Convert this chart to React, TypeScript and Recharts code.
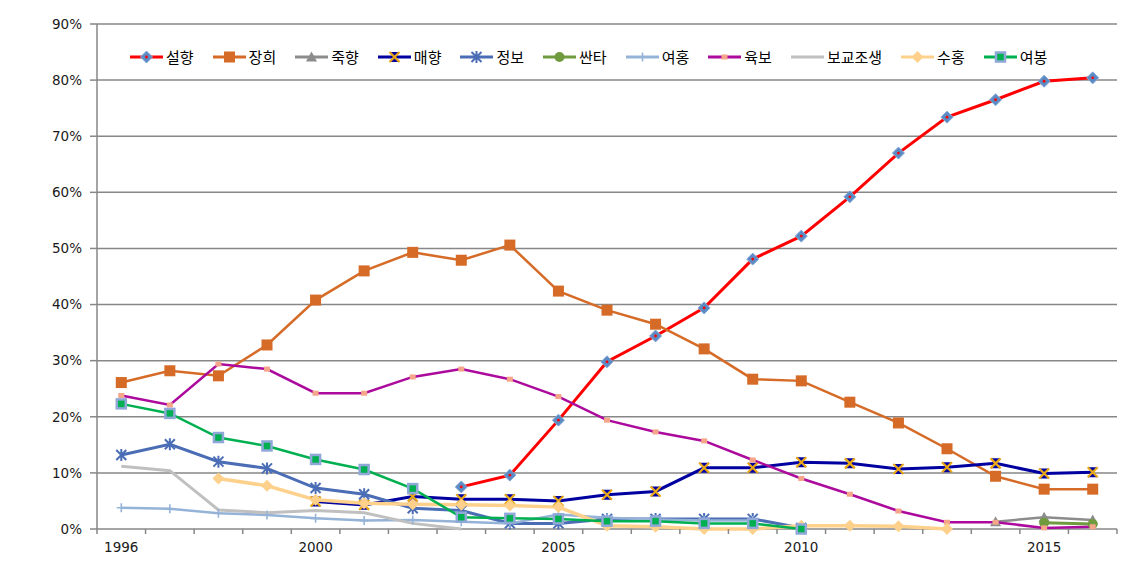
import { LineChart, Line, XAxis, YAxis, CartesianGrid, Legend } from "recharts";

const years = [
  1996, 1997, 1998, 1999, 2000, 2001, 2002, 2003, 2004, 2005, 2006, 2007, 2008,
  2009, 2010, 2011, 2012, 2013, 2014, 2015, 2016,
];
const yearBounds = [...years.map((y) => y - 0.5), 2016.5];
const yearLabels = [1996, 2000, 2005, 2010, 2015];
const pctTicks = [0, 10, 20, 30, 40, 50, 60, 70, 80, 90];

const seolhyang = [null, null, null, null, null, null, null, 7.5, 9.6, 19.4, 29.8, 34.4, 39.4, 48.1, 52.2, 59.2, 67.0, 73.4, 76.5, 79.8, 80.4];
const janghui = [26.1, 28.2, 27.3, 32.8, 40.8, 46.0, 49.3, 47.9, 50.6, 42.4, 39.0, 36.5, 32.1, 26.7, 26.4, 22.6, 18.9, 14.3, 9.4, 7.1, 7.1];
const jukhyang = [null, null, null, null, null, null, null, null, null, null, null, null, null, null, null, null, null, null, 1.3, 2.1, 1.6];
const maehyang = [null, null, null, null, 4.9, 4.3, 5.8, 5.3, 5.3, 5.0, 6.1, 6.7, 10.9, 10.9, 11.9, 11.7, 10.7, 11.0, 11.7, 9.9, 10.1];
const jeongbo = [13.2, 15.1, 12.0, 10.8, 7.3, 6.2, 3.7, 3.3, 1.0, 1.0, 1.8, 1.8, 1.8, 1.8, 0.2, null, null, null, null, null, null];
const santa = [null, null, null, null, null, null, null, null, null, null, null, null, null, null, null, null, null, null, null, 1.1, 0.9];
const yeohong = [3.8, 3.6, 2.8, 2.5, 1.9, 1.5, 1.6, 1.3, 1.0, 2.6, 2.0, 1.7, 1.5, 1.5, null, null, null, null, null, null, null];
const yukbo = [23.8, 22.1, 29.4, 28.5, 24.2, 24.2, 27.1, 28.5, 26.7, 23.6, 19.4, 17.3, 15.7, 12.3, 9.0, 6.2, 3.2, 1.2, 1.2, 0.2, 0.4];
const bogyojosaeng = [11.2, 10.4, 3.4, 2.9, 3.3, 2.9, 1.0, 0.0, null, null, null, null, null, null, null, null, null, null, null, null, null];
const suhong = [null, null, 9.0, 7.7, 5.2, 4.6, 4.4, 4.3, 4.2, 3.9, 0.6, 0.4, 0.0, 0.0, 0.6, 0.6, 0.5, 0.0, null, null, null];
const yeobong = [22.3, 20.6, 16.3, 14.8, 12.4, 10.6, 7.2, 2.1, 1.9, 1.8, 1.4, 1.4, 1.0, 1.0, 0.0, null, null, null, null, null, null];

type Mark = "diamond" | "square" | "triangle" | "x" | "star" | "circle" | "plus" | "small" | "soft" | "framed" | "none";

interface SeriesDef {
  name: string;
  values: (number | null)[];
  color: string;
  width: number;
  mark: Mark;
}

const series: SeriesDef[] = [
  { name: "설향", values: seolhyang, color: "#ff0000", width: 3, mark: "diamond" },
  { name: "장희", values: janghui, color: "#d56b27", width: 2.5, mark: "square" },
  { name: "죽향", values: jukhyang, color: "#8c8c8c", width: 2.5, mark: "triangle" },
  { name: "매향", values: maehyang, color: "#0000a0", width: 3, mark: "x" },
  { name: "정보", values: jeongbo, color: "#4a6db5", width: 3, mark: "star" },
  { name: "싼타", values: santa, color: "#6f9b3e", width: 3, mark: "circle" },
  { name: "여홍", values: yeohong, color: "#95b3d7", width: 2.5, mark: "plus" },
  { name: "육보", values: yukbo, color: "#ac0a9c", width: 2.5, mark: "small" },
  { name: "보교조생", values: bogyojosaeng, color: "#c0c0c0", width: 3, mark: "none" },
  { name: "수홍", values: suhong, color: "#fdd18b", width: 3.5, mark: "soft" },
  { name: "여봉", values: yeobong, color: "#00b050", width: 2.5, mark: "framed" },
];

const data = years.map((year, i) => {
  const row: Record<string, number | null> = { year };
  series.forEach((s) => {
    row[s.name] = s.values[i];
  });
  return row;
});

function drawMark(mark: Mark, x: number, y: number, color: string) {
  switch (mark) {
    case "diamond":
      return (
        <g>
          <polygon points={`${x},${y - 6} ${x + 6},${y} ${x},${y + 6} ${x - 6},${y}`} fill="#5b8bc5" stroke="#86a9d6" strokeWidth={1} />
          <circle cx={x} cy={y} r={1.4} fill="#ff0000" />
        </g>
      );
    case "square":
      return <rect x={x - 5.5} y={y - 5.5} width={11} height={11} fill={color} />;
    case "triangle":
      return <polygon points={`${x},${y - 5.5} ${x + 5.5},${y + 4.5} ${x - 5.5},${y + 4.5}`} fill={color} />;
    case "x":
      return (
        <g>
          <polygon points={`${x - 5},${y - 5} ${x + 5},${y - 5} ${x - 5},${y + 5} ${x + 5},${y + 5}`} fill={color} />
          <path d={`M${x - 5},${y - 5}L${x + 5},${y + 5}M${x + 5},${y - 5}L${x - 5},${y + 5}`} stroke="#e8a817" strokeWidth={2.2} />
        </g>
      );
    case "star":
      return (
        <path
          d={`M${x - 5},${y - 5}L${x + 5},${y + 5}M${x + 5},${y - 5}L${x - 5},${y + 5}M${x},${y - 6}L${x},${y + 6}`}
          stroke={color}
          strokeWidth={2}
        />
      );
    case "circle":
      return <circle cx={x} cy={y} r={5} fill={color} />;
    case "plus":
      return <path d={`M${x - 4.5},${y}L${x + 4.5},${y}M${x},${y - 4.5}L${x},${y + 4.5}`} stroke={color} strokeWidth={1.6} />;
    case "small":
      return <rect x={x - 3} y={y - 2.5} width={6} height={5} fill="#f4a58a" />;
    case "soft":
      return <polygon points={`${x},${y - 6} ${x + 6},${y} ${x},${y + 6} ${x - 6},${y}`} fill={color} />;
    case "framed":
      return <rect x={x - 4.5} y={y - 4.5} width={9} height={9} fill={color} stroke="#8fa8d8" strokeWidth={2.5} />;
    default:
      return <g />;
  }
}

function LegendBox() {
  return (
    <div style={{ display: "flex", gap: 19, alignItems: "center", fontFamily: "'Noto Sans CJK KR', sans-serif", fontSize: 15, color: "#000" }}>
      {series.map((s) => (
        <div key={s.name} style={{ display: "flex", alignItems: "center", whiteSpace: "nowrap" }}>
          <svg width={33} height={14} style={{ marginRight: 3 }}>
            <line x1={0} y1={7} x2={33} y2={7} stroke={s.color} strokeWidth={3} />
            {drawMark(s.mark, 16.5, 7, s.color)}
          </svg>
          <span>{s.name}</span>
        </div>
      ))}
    </div>
  );
}

const axisText = { fill: "#1a1a1a", fontSize: 13.5, fontFamily: "'DejaVu Sans', sans-serif" };
const gray = "#878787";

export default function App() {
  return (
    <LineChart width={1136} height={554} data={data} margin={{ top: 16, right: 27, left: 0, bottom: 31 }}>
      <CartesianGrid vertical={false} stroke={gray} strokeWidth={1.5} />
      <XAxis
        xAxisId="b"
        dataKey="year"
        type="number"
        domain={[1995.5, 2016.5]}
        ticks={yearBounds}
        interval={0}
        tickFormatter={() => ""}
        axisLine={false}
        tickLine={{ stroke: gray, strokeWidth: 1.5 }}
        tickSize={5}
        height={1}
      />
      <XAxis
        xAxisId="l"
        dataKey="year"
        type="number"
        domain={[1995.5, 2016.5]}
        ticks={yearLabels}
        interval={0}
        axisLine={false}
        tickLine={false}
        tickSize={0}
        tickMargin={12}
        height={1}
        tick={axisText}
      />
      <YAxis
        domain={[0, 90]}
        ticks={pctTicks}
        interval={0}
        tickFormatter={(v) => `${v}%`}
        width={89}
        tickSize={7}
        tickMargin={8}
        axisLine={{ stroke: gray, strokeWidth: 1.5 }}
        tickLine={{ stroke: gray, strokeWidth: 1.5 }}
        tick={axisText}
      />
      <Legend
        layout="horizontal"
        verticalAlign="middle"
        align="center"
        wrapperStyle={{ top: 38, left: 122, width: 1000, height: 22 }}
        content={() => <LegendBox />}
      />
      {series.map((s) => (
        <Line
          key={s.name}
          xAxisId="l"
          dataKey={s.name}
          stroke={s.color}
          strokeWidth={s.width}
          isAnimationActive={false}
          activeDot={false}
          dot={(p: any) =>
            p.cy == null || p.value == null ? (
              <g key={`${s.name}-${p.index}`} />
            ) : (
              <g key={`${s.name}-${p.index}`}>{drawMark(s.mark, p.cx, p.cy, s.color)}</g>
            )
          }
        />
      ))}
    </LineChart>
  );
}
